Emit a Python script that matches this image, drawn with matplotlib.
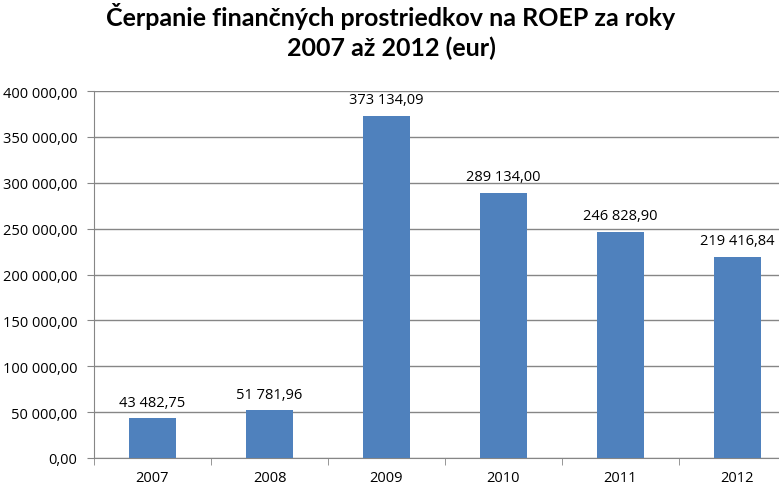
import numpy as np
import matplotlib.pyplot as plt
from matplotlib.ticker import FuncFormatter, FixedLocator

years = ["2007", "2008", "2009", "2010", "2011", "2012"]
values = [43482.75, 51781.96, 373134.09, 289134.00, 246828.90, 219416.84]
y_ticks = [0, 50000, 100000, 150000, 200000, 250000, 300000, 350000, 400000]


def sk_fmt(v, pos=None):
    s = "{:,.2f}".format(v)
    return s.replace(",", " ").replace(".", ",")


plt.rcParams["font.family"] = ["Open Sans", "DejaVu Sans"]

fig = plt.figure(figsize=(7.79, 4.85), dpi=100)
ax = fig.add_axes([94 / 779, 26 / 485, 702 / 779, 367 / 485])

x = np.arange(len(years))
ax.bar(x, values, width=0.4, color="#4F81BD", zorder=3)

# value labels above the bars
for xi, v in zip(x, values):
    ax.text(xi, v + 9000, sk_fmt(v), ha="center", va="bottom", fontsize=10.5, color="black")

ax.set_xlim(-0.5, len(years) - 0.5)
ax.set_ylim(0, 400000)
ax.set_yticks(y_ticks)
ax.yaxis.set_major_formatter(FuncFormatter(sk_fmt))
ax.grid(axis="y", color="#868686", linewidth=1, zorder=0)

ax.set_xticks(x)
ax.set_xticklabels(years)
ax.xaxis.set_minor_locator(FixedLocator(np.arange(-0.5, len(years), 1.0)))
ax.tick_params(axis="x", which="major", length=0, pad=9, labelsize=10.5)
ax.tick_params(axis="x", which="minor", length=5, color="#868686")
ax.tick_params(axis="y", length=5, color="#868686", labelsize=10.5, pad=7)

for side in ["top", "right"]:
    ax.spines[side].set_visible(False)
for side in ["left", "bottom"]:
    ax.spines[side].set_color("#868686")

fig.text(0.502, 0.993, "Čerpanie finančných prostriedkov na ROEP za roky\n2007 až 2012 (eur)",
         ha="center", va="top", fontsize=18, fontweight="bold", linespacing=1.3,
         family=["Lato", "DejaVu Sans"])

fig.savefig("out.png", dpi=100)
